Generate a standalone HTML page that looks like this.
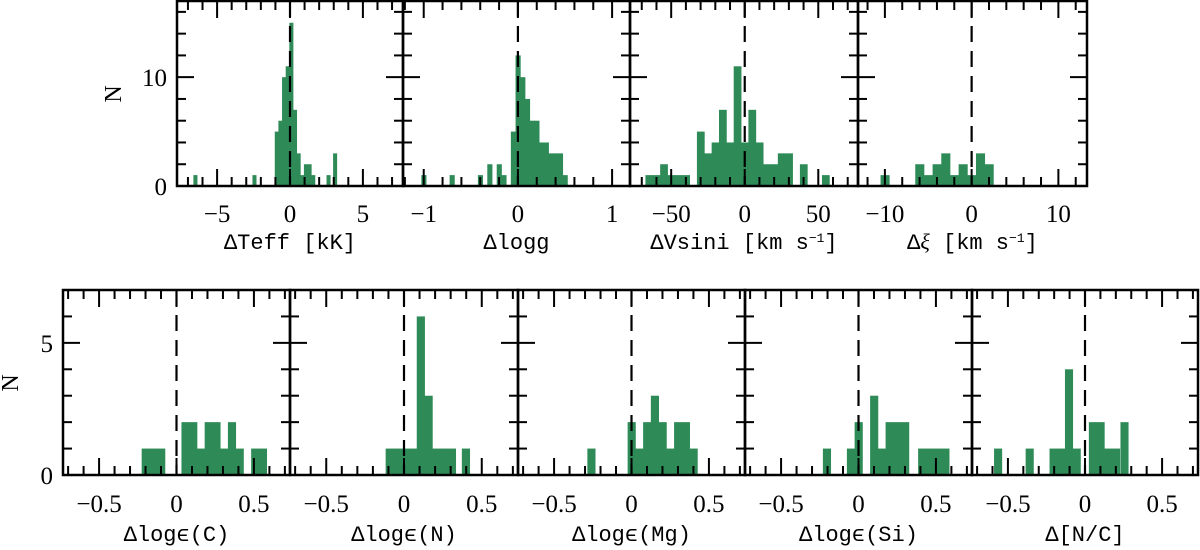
<!DOCTYPE html>
<html><head><meta charset="utf-8">
<style>
html,body{margin:0;padding:0;background:#fff;}
svg{display:block;font-family:"Liberation Serif","DejaVu Serif",serif;}
.mono{font-family:"Liberation Mono","DejaVu Sans Mono",monospace;}
</style></head>
<body>
<svg id="chart" width="1200" height="550" viewBox="0 0 1200 550" xmlns="http://www.w3.org/2000/svg"></svg>
<script>
// ---- data: bin centers and counts per panel ----
const teffCenters = [-6.5,-2.45,-0.92,-0.67,-0.42,-0.17,0.08,0.33,0.58,0.83,1.08,1.33,1.58,2.63,3.08];
const teffCounts  = [1,1,5,6,10,11,15,7,3,1,2,2,1,1,3];
const loggCenters = [-1.0,-0.7,-0.4,-0.3,-0.2,-0.15,-0.05,0.0,0.05,0.1,0.15,0.2,0.25,0.3,0.35,0.4,0.45,0.5];
const loggCounts  = [1,1,1,2,2,1,5,12,10,8,6,6,4,4,3,3,3,1];
const vsiniCenters = [-65,-60,-55,-50,-45,-40,-30,-25,-20,-15,-10,-5,0,5,10,15,20,25,30,40,55];
const vsiniCounts  = [1,1,2,1,1,1,5,3,4,7,4,11,4,7,4,2,2,3,3,2,1];
const xiCenters = [-10,-6,-5,-4,-3,-2,-1,0,1,2];
const xiCounts  = [1,2,1,2,3,1,2,1,3,2];
const cCenters = [-0.2,-0.15,-0.1,0.057,0.107,0.157,0.207,0.257,0.307,0.357,0.407,0.507,0.557];
const cCounts  = [1,1,1,2,2,1,2,2,1,2,1,1,1];
const nCenters = [-0.093,-0.043,0.007,0.057,0.107,0.157,0.207,0.257,0.307,0.397];
const nCounts  = [1,1,1,1,6,3,1,1,1,1];
const mgCenters = [-0.26,0.0,0.05,0.1,0.15,0.2,0.25,0.3,0.35,0.4];
const mgCounts  = [1,2,1,2,3,2,1,2,2,1];
const siCenters = [-0.205,-0.05,0.0,0.1,0.15,0.2,0.25,0.3,0.41,0.46,0.51,0.56];
const siCounts  = [1,1,2,3,1,2,2,2,1,1,1,1];
const ncCenters = [-0.565,-0.36,-0.205,-0.155,-0.105,-0.055,0.05,0.1,0.15,0.2,0.255];
const ncCounts  = [1,1,1,1,4,1,2,2,1,1,2];
const topXTickLabels = [["−5","0","5"],["−1","0","1"],["−50","0","50"],["−10","0","10"]];
const botXTickLabels = ["−0.5","0","0.5"];
const topYTickLabels = ["0","10"];
const botYTickLabels = ["0","5"];

const NS="http://www.w3.org/2000/svg";
const svg=document.getElementById('chart');
function mk(tag,attrs,parent){const e=document.createElementNS(NS,tag);for(const k in attrs)e.setAttribute(k,attrs[k]);(parent||svg).appendChild(e);return e;}

const topPanels=[
 {name:'teff',x0:177,x1:403,xmin:-7.75,xmax:7.75,c:teffCenters,n:teffCounts,w:0.25,major:[-5,0,5],minor:1,title:'ΔTeff [kK]'},
 {name:'logg',x0:403,x1:630,xmin:-1.22,xmax:1.19,c:loggCenters,n:loggCounts,w:0.05,major:[-1,0,1],minor:0.2,title:'Δlogg'},
 {name:'vsini',x0:630,x1:858,xmin:-78,xmax:77,c:vsiniCenters,n:vsiniCounts,w:5,major:[-50,0,50],minor:10,title:'ΔVsini [km s<tspan baseline-shift="super" font-size="13">−1</tspan>]'},
 {name:'xi',x0:858,x1:1087,xmin:-13.1,xmax:13.3,c:xiCenters,n:xiCounts,w:1,major:[-10,0,10],minor:2,title:'Δ<tspan font-style="italic" font-family="Liberation Serif">ξ</tspan> [km s<tspan baseline-shift="super" font-size="13">−1</tspan>]'}
];
const botPanels=[
 {name:'c',x0:63,x1:290,c:cCenters,n:cCounts,title:'Δlogϵ(C)'},
 {name:'n',x0:290,x1:518,c:nCenters,n:nCounts,title:'Δlogϵ(N)'},
 {name:'mg',x0:518,x1:745,c:mgCenters,n:mgCounts,title:'Δlogϵ(Mg)'},
 {name:'si',x0:745,x1:972,c:siCenters,n:siCounts,title:'Δlogϵ(Si)'},
 {name:'nc',x0:972,x1:1198,c:ncCenters,n:ncCounts,title:'Δ[N/C]'}
];
botPanels.forEach(p=>{p.xmin=-0.733;p.xmax=0.733;p.w=0.05;p.major=[-0.5,0,0.5];p.minor=0.1;});

function drawPanel(p,y0,y1,ymax,yMajor,yMinor,xLabels,yLabels,first,tickLabY,titleY){
  const g=mk('g',{});
  
  
  const sx=v=>p.x0+(v-p.xmin)/(p.xmax-p.xmin)*(p.x1-p.x0);
  const sy=v=>y1-v/ymax*(y1-y0);
  p.c.forEach((c,i)=>{
    if(!p.n[i])return;
    const r=mk('rect',{x:sx(c-p.w/2),y:sy(p.n[i]),width:sx(c+p.w/2)-sx(c-p.w/2)+0.4,height:y1-sy(p.n[i]),fill:'#2e8b57'},g);
    
    
  });
  const d=mk('line',{x1:sx(0),x2:sx(0),y1:y0,y2:y1,stroke:'#000','stroke-width':2.2,'stroke-dasharray':'16 9'},g);
  
  
  const nmin=Math.ceil(p.xmin/p.minor-1e-6), nmax=Math.floor(p.xmax/p.minor+1e-6);
  for(let k=nmin;k<=nmax;k++){
    const v=k*p.minor; const isMaj=p.major.some(m=>Math.abs(m-v)<1e-6);
    const L=isMaj?17:9; const x=sx(v);
    mk('line',{x1:x,x2:x,y1:y1,y2:y1-L,stroke:'#000','stroke-width':2},g);
    mk('line',{x1:x,x2:x,y1:y0,y2:y0+L,stroke:'#000','stroke-width':2},g);
  }
  for(let v=0;v<=ymax;v+=yMinor){
    const isMaj=yMajor.includes(v); const L=isMaj?17:9; const y=sy(v);
    mk('line',{x1:p.x0,x2:p.x0+L,y1:y,y2:y,stroke:'#000','stroke-width':2},g);
    mk('line',{x1:p.x1,x2:p.x1-L,y1:y,y2:y,stroke:'#000','stroke-width':2},g);
  }
  const fr=mk('rect',{x:p.x0,y:y0,width:p.x1-p.x0,height:y1-y0,fill:'none',stroke:'#000','stroke-width':2.5},g);
  
  
  p.major.forEach((m,i)=>{
    const t=mk('text',{x:sx(m),y:tickLabY,'text-anchor':'middle','font-size':25},g);
    t.textContent=xLabels[i];
    
    
  });
  const tt=mk('text',{x:(p.x0+p.x1)/2,y:titleY,'text-anchor':'middle','font-size':22,'class':'mono'},g);
  tt.innerHTML=p.title;
  
  
  if(first){
    yMajor.forEach((m,i)=>{
      const t=mk('text',{x:p.x0-10,y:sy(m)+9,'text-anchor':'end','font-size':25},g);
      t.textContent=yLabels[i];
      
      
    });
  }
}
topPanels.forEach((p,i)=>drawPanel(p,1,186,17,[0,10],2,topXTickLabels[i],topYTickLabels,i===0,222,249));
botPanels.forEach((p,i)=>drawPanel(p,290,475,7,[0,5],1,botXTickLabels,botYTickLabels,i===0,512,541));
const yl1=mk('text',{x:0,y:0,'text-anchor':'middle','font-size':24,transform:'translate(121,94) rotate(-90)'});
yl1.textContent='N';


const yl2=mk('text',{x:0,y:0,'text-anchor':'middle','font-size':24,transform:'translate(18,383) rotate(-90)'});
yl2.textContent='N';


</script>
</body></html>
